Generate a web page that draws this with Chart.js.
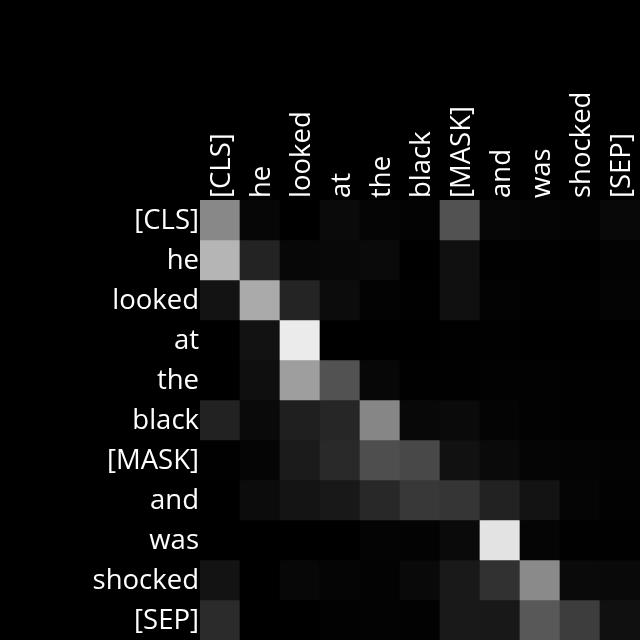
<!DOCTYPE html>
<html>
<head>
<meta charset="utf-8">
<script src="https://cdn.jsdelivr.net/npm/chart.js@4"></script>
<style>
  html, body { margin: 0; padding: 0; background: #000; }
  #wrap { width: 640px; height: 640px; }
</style>
</head>
<body>
<div id="wrap"><canvas id="c" width="640" height="640"></canvas></div>
<script>
// Tokens (columns = attended-to, rows = attending)
const colTokens = ["[CLS]", "he", "looked", "at", "the", "black", "[MASK]", "and", "was", "shocked", "[SEP]"];
const rowTokens = ["[CLS]", "he", "looked", "at", "the", "black", "[MASK]", "and", "was", "shocked", "[SEP]"];

// Attention weights, one array per row
const rowCLS     = [0.533, 0.024, 0.000, 0.039, 0.020, 0.012, 0.322, 0.024, 0.020, 0.012, 0.031];
const rowHe      = [0.710, 0.137, 0.027, 0.031, 0.039, 0.000, 0.063, 0.004, 0.004, 0.000, 0.012];
const rowLooked  = [0.075, 0.667, 0.141, 0.047, 0.012, 0.004, 0.063, 0.012, 0.004, 0.004, 0.016];
const rowAt      = [0.000, 0.071, 0.922, 0.000, 0.000, 0.000, 0.004, 0.004, 0.000, 0.000, 0.000];
const rowThe     = [0.000, 0.059, 0.620, 0.322, 0.027, 0.004, 0.004, 0.008, 0.008, 0.004, 0.004];
const rowBlack   = [0.133, 0.039, 0.122, 0.149, 0.525, 0.031, 0.039, 0.016, 0.008, 0.004, 0.004];
const rowMask    = [0.004, 0.020, 0.106, 0.161, 0.306, 0.282, 0.067, 0.039, 0.020, 0.016, 0.012];
const rowAnd     = [0.000, 0.047, 0.078, 0.094, 0.157, 0.220, 0.208, 0.133, 0.075, 0.020, 0.008];
const rowWas     = [0.000, 0.000, 0.000, 0.000, 0.016, 0.012, 0.039, 0.890, 0.020, 0.004, 0.004];
const rowShocked = [0.075, 0.000, 0.027, 0.020, 0.012, 0.035, 0.098, 0.192, 0.541, 0.039, 0.035];
const rowSEP     = [0.169, 0.000, 0.000, 0.008, 0.012, 0.008, 0.098, 0.094, 0.345, 0.239, 0.063];

const matrix = [rowCLS, rowHe, rowLooked, rowAt, rowThe, rowBlack, rowMask, rowAnd, rowWas, rowShocked, rowSEP];

function gray(v) {
  const g = Math.round(Math.max(0, Math.min(1, v)) * 255);
  return `rgb(${g},${g},${g})`;
}

const datasets = matrix.map((row, i) => ({
  label: rowTokens[i],
  data: colTokens.map(() => [i, i + 1]),
  backgroundColor: row.map(gray),
  borderWidth: 0,
  barPercentage: 1,
  categoryPercentage: 1,
  grouped: false
}));

const FONT = { family: "'Open Sans', 'Noto Sans', sans-serif", size: 27.5 };

new Chart(document.getElementById('c'), {
  type: 'bar',
  data: { labels: colTokens, datasets },
  options: {
    responsive: false,
    animation: false,
    layout: { padding: 0 },
    plugins: { legend: { display: false }, tooltip: { enabled: false } },
    scales: {
      x: {
        position: 'top',
        grid: { display: false, drawTicks: false },
        border: { display: false },
        ticks: { color: '#fff', font: FONT, minRotation: 90, maxRotation: 90, padding: 2, autoSkip: false, labelOffset: 35 },
        afterFit: (s) => { s.height = 200; s.paddingLeft = 0; s.paddingRight = 0; }
      },
      y: {
        type: 'linear',
        min: 0,
        max: rowTokens.length,
        reverse: true,
        grid: { display: false, drawTicks: false },
        border: { display: false },
        afterBuildTicks: (s) => { s.ticks = rowTokens.map((_, i) => ({ value: i + 0.5 })); },
        ticks: {
          color: '#fff', font: FONT, padding: 1, autoSkip: false, labelOffset: 1,
          callback: (v, idx) => rowTokens[idx]
        },
        afterFit: (s) => { s.width = 200; s.paddingTop = 0; s.paddingBottom = 0; }
      }
    }
  }
});
</script>
</body>
</html>
